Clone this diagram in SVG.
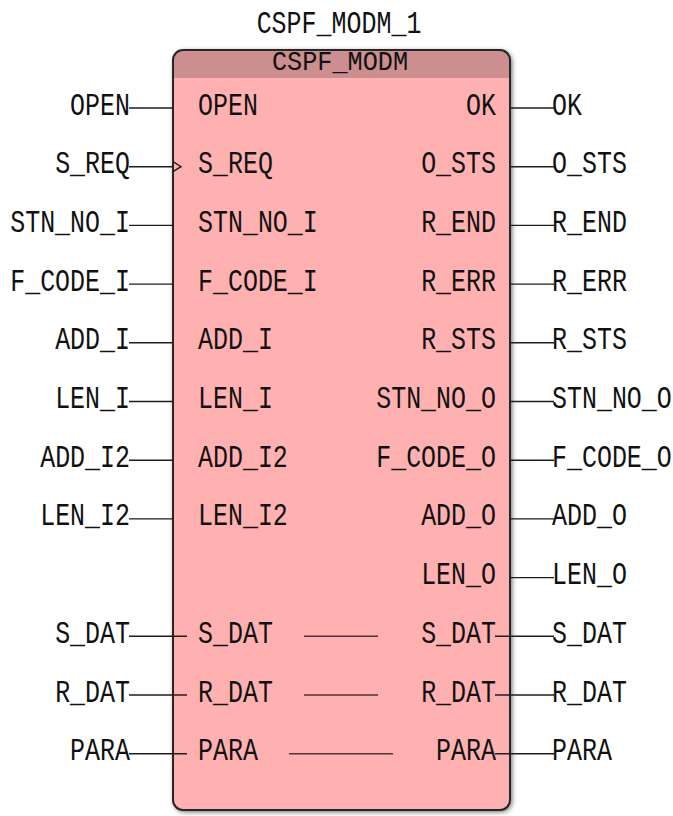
<svg xmlns="http://www.w3.org/2000/svg" width="673" height="816" viewBox="0 0 673 816">
  <style>
    .t { font-family: "Liberation Mono", "DejaVu Sans Mono", monospace; font-size: 32px; fill: #111; }
    .hdr { font-family: "Liberation Mono", "DejaVu Sans Mono", monospace; font-size: 28px; fill: #111; }
    .e { text-anchor: end; }
    .m { text-anchor: middle; }
    .w { stroke: #1e1e1e; stroke-width: 1.4; fill: none; }
    .pass { stroke: #4a3434; stroke-width: 1.6; fill: none; }
  </style>
  <defs>
    <filter id="soft" x="-10%" y="-10%" width="120%" height="120%">
      <feGaussianBlur stdDeviation="2.5"/>
    </filter>
    <clipPath id="bodyClip">
      <rect x="173" y="50" width="337" height="760" rx="10" ry="10"/>
    </clipPath>
  </defs>

  <rect width="673" height="816" fill="#ffffff"/>

  <!-- function block instance -->
  <g id="fb-CSPF_MODM_1">
    <text class="t m" transform="translate(339 33) scale(0.78 1)">CSPF_MODM_1</text>
    <rect x="174" y="51" width="338" height="761" rx="11" ry="11" fill="#6a6a6a" filter="url(#soft)"/>
    <rect x="173" y="50" width="337" height="760" rx="10" ry="10" fill="#ffb1b1"/>
    <rect x="173" y="50" width="337" height="28" fill="#cc8e8e" clip-path="url(#bodyClip)"/>
    <rect x="173" y="50" width="337" height="760" rx="10" ry="10" fill="none" stroke="#262626" stroke-width="2"/>
    <text class="hdr m" transform="translate(340 70) scale(0.9 1)">CSPF_MODM</text>

    <!-- input pins -->
    <g class="t">
      <text transform="translate(198 114.5) scale(0.78 1)">OPEN</text>
      <text transform="translate(198 173.2) scale(0.78 1)">S_REQ</text>
      <text transform="translate(198 231.9) scale(0.78 1)">STN_NO_I</text>
      <text transform="translate(198 290.6) scale(0.78 1)">F_CODE_I</text>
      <text transform="translate(198 349.3) scale(0.78 1)">ADD_I</text>
      <text transform="translate(198 408) scale(0.78 1)">LEN_I</text>
      <text transform="translate(198 466.7) scale(0.78 1)">ADD_I2</text>
      <text transform="translate(198 525.4) scale(0.78 1)">LEN_I2</text>
      <text transform="translate(198 642.8) scale(0.78 1)">S_DAT</text>
      <text transform="translate(198 701.5) scale(0.78 1)">R_DAT</text>
      <text transform="translate(198 760.2) scale(0.78 1)">PARA</text>
    </g>
    <!-- output pins -->
    <g class="t e">
      <text transform="translate(496 114.5) scale(0.78 1)">OK</text>
      <text transform="translate(496 173.2) scale(0.78 1)">O_STS</text>
      <text transform="translate(496 231.9) scale(0.78 1)">R_END</text>
      <text transform="translate(496 290.6) scale(0.78 1)">R_ERR</text>
      <text transform="translate(496 349.3) scale(0.78 1)">R_STS</text>
      <text transform="translate(496 408) scale(0.78 1)">STN_NO_O</text>
      <text transform="translate(496 466.7) scale(0.78 1)">F_CODE_O</text>
      <text transform="translate(496 525.4) scale(0.78 1)">ADD_O</text>
      <text transform="translate(496 584.1) scale(0.78 1)">LEN_O</text>
      <text transform="translate(496 642.8) scale(0.78 1)">S_DAT</text>
      <text transform="translate(496 701.5) scale(0.78 1)">R_DAT</text>
      <text transform="translate(496 760.2) scale(0.78 1)">PARA</text>
    </g>
    <!-- edge-triggered input mark -->
    <polyline class="w" points="173,161.7 181,166.7 173,171.7"/>
    <!-- in/out pass-through bars -->
    <line class="pass" x1="304" y1="636.3" x2="378" y2="636.3"/>
    <line class="pass" x1="304" y1="695" x2="378" y2="695"/>
    <line class="pass" x1="289" y1="753.7" x2="393" y2="753.7"/>
  </g>

  <!-- input variables -->
  <g id="var-in-OPEN"><text class="t e" transform="translate(130 114.5) scale(0.78 1)">OPEN</text></g>
  <g id="var-in-S_REQ"><text class="t e" transform="translate(130 173.2) scale(0.78 1)">S_REQ</text></g>
  <g id="var-in-STN_NO_I"><text class="t e" transform="translate(130 231.9) scale(0.78 1)">STN_NO_I</text></g>
  <g id="var-in-F_CODE_I"><text class="t e" transform="translate(130 290.6) scale(0.78 1)">F_CODE_I</text></g>
  <g id="var-in-ADD_I"><text class="t e" transform="translate(130 349.3) scale(0.78 1)">ADD_I</text></g>
  <g id="var-in-LEN_I"><text class="t e" transform="translate(130 408) scale(0.78 1)">LEN_I</text></g>
  <g id="var-in-ADD_I2"><text class="t e" transform="translate(130 466.7) scale(0.78 1)">ADD_I2</text></g>
  <g id="var-in-LEN_I2"><text class="t e" transform="translate(130 525.4) scale(0.78 1)">LEN_I2</text></g>
  <g id="var-in-S_DAT"><text class="t e" transform="translate(130 642.8) scale(0.78 1)">S_DAT</text></g>
  <g id="var-in-R_DAT"><text class="t e" transform="translate(130 701.5) scale(0.78 1)">R_DAT</text></g>
  <g id="var-in-PARA"><text class="t e" transform="translate(130 760.2) scale(0.78 1)">PARA</text></g>

  <!-- output variables -->
  <g id="var-out-OK"><text class="t" transform="translate(552 114.5) scale(0.78 1)">OK</text></g>
  <g id="var-out-O_STS"><text class="t" transform="translate(552 173.2) scale(0.78 1)">O_STS</text></g>
  <g id="var-out-R_END"><text class="t" transform="translate(552 231.9) scale(0.78 1)">R_END</text></g>
  <g id="var-out-R_ERR"><text class="t" transform="translate(552 290.6) scale(0.78 1)">R_ERR</text></g>
  <g id="var-out-R_STS"><text class="t" transform="translate(552 349.3) scale(0.78 1)">R_STS</text></g>
  <g id="var-out-STN_NO_O"><text class="t" transform="translate(552 408) scale(0.78 1)">STN_NO_O</text></g>
  <g id="var-out-F_CODE_O"><text class="t" transform="translate(552 466.7) scale(0.78 1)">F_CODE_O</text></g>
  <g id="var-out-ADD_O"><text class="t" transform="translate(552 525.4) scale(0.78 1)">ADD_O</text></g>
  <g id="var-out-LEN_O"><text class="t" transform="translate(552 584.1) scale(0.78 1)">LEN_O</text></g>
  <g id="var-out-S_DAT"><text class="t" transform="translate(552 642.8) scale(0.78 1)">S_DAT</text></g>
  <g id="var-out-R_DAT"><text class="t" transform="translate(552 701.5) scale(0.78 1)">R_DAT</text></g>
  <g id="var-out-PARA"><text class="t" transform="translate(552 760.2) scale(0.78 1)">PARA</text></g>

  <!-- wires -->
  <g id="connectors" class="w">
    <line x1="129" y1="108" x2="173" y2="108"/>
    <line x1="129" y1="166.7" x2="173" y2="166.7"/>
    <line x1="129" y1="225.4" x2="173" y2="225.4"/>
    <line x1="129" y1="284.1" x2="173" y2="284.1"/>
    <line x1="129" y1="342.8" x2="173" y2="342.8"/>
    <line x1="129" y1="401.5" x2="173" y2="401.5"/>
    <line x1="129" y1="460.2" x2="173" y2="460.2"/>
    <line x1="129" y1="518.9" x2="173" y2="518.9"/>
    <line x1="129" y1="636.3" x2="187" y2="636.3"/>
    <line x1="129" y1="695" x2="187" y2="695"/>
    <line x1="129" y1="753.7" x2="187" y2="753.7"/>

    <line x1="510" y1="108" x2="554" y2="108"/>
    <line x1="510" y1="166.7" x2="554" y2="166.7"/>
    <line x1="510" y1="225.4" x2="554" y2="225.4"/>
    <line x1="510" y1="284.1" x2="554" y2="284.1"/>
    <line x1="510" y1="342.8" x2="554" y2="342.8"/>
    <line x1="510" y1="401.5" x2="554" y2="401.5"/>
    <line x1="510" y1="460.2" x2="554" y2="460.2"/>
    <line x1="510" y1="518.9" x2="554" y2="518.9"/>
    <line x1="510" y1="577.6" x2="554" y2="577.6"/>
    <line x1="495" y1="636.3" x2="554" y2="636.3"/>
    <line x1="495" y1="695" x2="554" y2="695"/>
    <line x1="495" y1="753.7" x2="554" y2="753.7"/>
  </g>
</svg>
